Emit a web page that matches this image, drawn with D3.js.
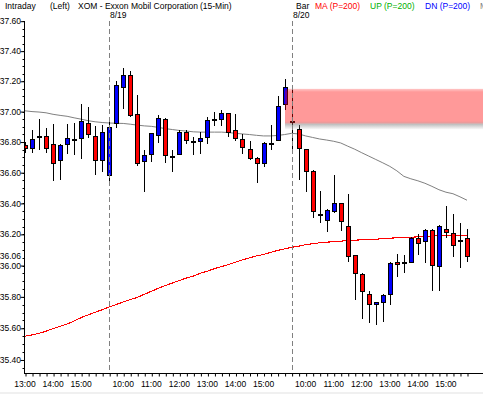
<!DOCTYPE html>
<html>
<head>
<meta charset="utf-8">
<script src="https://cdn.jsdelivr.net/npm/d3@7"></script>
<style>
  body { margin: 0; background: #fff; }
  svg { display: block; }
  text { font-family: "Liberation Sans", Arial, sans-serif; font-size: 8.5px; fill: #000; }
</style>
</head>
<body>
<svg id="chart"></svg>
<script>
// sessions shown on the chart (15-min bars)
var sessions = [
  {date: "8/18", start: "13:00", bars: 12},
  {date: "8/19", start: "09:30", bars: 26},
  {date: "8/20", start: "09:30", bars: 26}
]

// OHLC, one value per bar
var open  = [36.78,36.76,36.83,36.84,36.79,36.68,36.79,36.82,36.825,36.925,36.84,36.685,
  36.585,36.925,37.165,37.24,36.985,36.675,36.725,36.845,36.95,36.71,36.725,36.865,36.81,36.81,36.83,36.95,36.95,36.99,36.88,36.82,36.755,36.695,36.66,36.795,36.815,37.05,
  36.935,36.885,36.755,36.61,36.33,36.295,36.35,36.40,36.255,36.07,35.945,35.82,35.755,35.765,35.82,36.025,36.025,36.025,36.18,36.155,36.23,35.995,36.235,36.21,36.165,36.18]
var high  = [36.80,36.88,36.95,36.89,36.92,36.785,36.92,36.925,37.05,37.03,36.905,36.915,
  36.95,37.205,37.285,37.27,37.11,36.75,36.86,36.975,36.96,36.75,36.88,36.88,36.835,36.865,36.965,37.00,37.01,36.99,36.985,36.85,36.81,36.705,36.80,36.915,37.105,37.215,
  37.14,36.915,36.755,36.615,36.48,36.365,36.585,36.40,36.46,36.07,35.955,35.84,35.77,35.82,36.02,36.075,36.07,36.185,36.205,36.235,36.235,36.26,36.385,36.33,36.275,36.235]
var low   = [36.73,36.73,36.75,36.73,36.545,36.555,36.725,36.715,36.69,36.825,36.585,36.605,
  36.515,36.895,37.02,36.965,36.645,36.475,36.67,36.795,36.66,36.605,36.715,36.785,36.715,36.725,36.79,36.905,36.905,36.83,36.81,36.725,36.68,36.53,36.635,36.745,36.81,37.01,
  36.735,36.555,36.475,36.305,36.275,36.215,36.335,36.225,36.02,35.78,35.66,35.635,35.62,35.64,35.745,35.925,35.955,36.015,36.069,36.019,35.84,35.84,36.175,36.055,35.985,36.02]
var close = [36.76,36.82,36.84,36.76,36.66,36.78,36.825,36.815,36.935,36.855,36.685,36.865,
  36.90,37.175,37.24,36.975,36.665,36.715,36.86,36.96,36.715,36.705,36.865,36.815,36.805,36.825,36.945,36.95,36.99,36.865,36.825,36.77,36.695,36.66,36.795,36.795,37.04,37.16,
  36.935,36.76,36.61,36.35,36.33,36.36,36.40,36.285,36.06,35.955,35.84,35.755,35.77,35.81,36.015,36.01,36.025,36.18,36.145,36.23,36.005,36.255,36.215,36.135,36.165,36.06]

// the two moving averages drawn over the bars
var grayMA = [37.005,37.00,36.997,36.992,36.982,36.975,36.969,36.959,36.95,36.94,36.933,36.928,
  36.925,36.923,36.922,36.917,36.911,36.906,36.903,36.896,36.888,36.882,36.876,36.872,36.867,36.865,36.865,36.865,36.865,36.862,36.857,36.853,36.849,36.844,36.84,36.84,36.843,36.849,
  36.857,36.853,36.84,36.83,36.82,36.813,36.805,36.794,36.773,36.753,36.73,36.708,36.686,36.664,36.641,36.612,36.576,36.56,36.547,36.531,36.511,36.489,36.473,36.463,36.443,36.421]
var redMA = [35.55,35.558,35.568,35.582,35.598,35.612,35.628,35.646,35.668,35.685,35.702,35.718,
  35.735,35.751,35.767,35.783,35.796,35.816,35.835,35.855,35.872,35.888,35.904,35.92,35.933,35.951,35.964,35.98,35.993,36.006,36.022,36.036,36.049,36.062,36.071,36.084,36.097,36.107,
  36.117,36.124,36.134,36.14,36.146,36.15,36.153,36.156,36.161,36.163,36.165,36.167,36.169,36.173,36.176,36.178,36.18,36.182,36.184,36.187,36.189,36.192,36.194,36.194,36.193,36.193]

// price axis
var priceTicks = [37.60,37.40,37.20,37.00,36.80,36.60,36.40,36.20,36.00,35.80,35.60,35.40]
var priceMinor = d3.range(35.35, 37.61, 0.05)
var lastPrice = close[close.length - 1]

// shaded zone (gap) on the right
var zoneFromBar = 37
var zoneTop = 37.15
var zoneBottom = 36.92

var width = 483, height = 394
var plot = {left: 25, right: 483, top: 21, bottom: 373}

// build bar list with times
var bars = []
sessions.forEach(function(s, si) {
  var hm = s.start.split(":").map(Number)
  var mins = hm[0] * 60 + hm[1]
  for (var k = 0; k < s.bars; k++) {
    var m = mins + k * 15
    var hh = Math.floor(m / 60), mm = m % 60
    bars.push({
      i: bars.length, session: si, first: k === 0,
      time: hh + ":" + (mm < 10 ? "0" : "") + mm,
      o: open[bars.length], h: high[bars.length], l: low[bars.length], c: close[bars.length]
    })
  }
})

var svg = d3.select("#chart").attr("width", width).attr("height", height)
svg.append("rect").attr("width", width).attr("height", height).attr("fill", "#fff")
svg.append("rect").attr("y", 392).attr("width", width).attr("height", 2).attr("fill", "#f0f0f0")

var x = d3.scaleLinear().domain([0, bars.length - 1]).range([25, 467])
var y = d3.scaleLog().domain([35.318, 37.6]).range([plot.bottom, 21.2])

var defs = svg.append("defs")
defs.append("clipPath").attr("id", "clip")
  .append("rect").attr("x", plot.left).attr("y", plot.top)
  .attr("width", plot.right - plot.left).attr("height", plot.bottom - plot.top)

var zg = defs.append("linearGradient").attr("id", "zoneGrad").attr("x1", 0).attr("x2", 0).attr("y1", 0).attr("y2", 1)
zg.append("stop").attr("offset", "0%").attr("stop-color", "#ff0000").attr("stop-opacity", 0.22)
zg.append("stop").attr("offset", "9%").attr("stop-color", "#ff0000").attr("stop-opacity", 0.4)
zg.append("stop").attr("offset", "92%").attr("stop-color", "#ff0000").attr("stop-opacity", 0.4)
zg.append("stop").attr("offset", "100%").attr("stop-color", "#b04040").attr("stop-opacity", 0.5)
var sg = defs.append("linearGradient").attr("id", "shadowGrad").attr("x1", 0).attr("x2", 0).attr("y1", 0).attr("y2", 1)
sg.append("stop").attr("offset", "0%").attr("stop-color", "#808080").attr("stop-opacity", 0.55)
sg.append("stop").attr("offset", "100%").attr("stop-color", "#808080").attr("stop-opacity", 0)

var body = svg.append("g").attr("clip-path", "url(#clip)")

// day separators
var dayStarts = bars.filter(d => d.first && d.i > 0)
svg.selectAll(".sep").data(dayStarts).enter().append("line")
  .attr("x1", d => Math.round(x(d.i)) + 0.5).attr("x2", d => Math.round(x(d.i)) + 0.5)
  .attr("y1", plot.top).attr("y2", plot.bottom)
  .attr("stroke", "#808080").attr("stroke-dasharray", "5,3")
svg.selectAll(".daylabel").data(dayStarts).enter().append("text")
  .attr("x", d => Math.round(x(d.i)) + 1).attr("y", 18.3)
  .text(d => sessions[d.session].date)

// moving averages
var line = d3.line().x((d, i) => x(i)).y(d => y(d))
body.append("path").datum(grayMA).attr("d", line)
  .attr("fill", "none").attr("stroke", "#808080").attr("stroke-width", 1)
body.append("path").datum(redMA).attr("d", line)
  .attr("fill", "none").attr("stroke", "#ff0000").attr("stroke-width", 1.1)
  .attr("shape-rendering", "crispEdges")

// candles
var candles = body.selectAll(".candle").data(bars).enter().append("g")
candles.append("line")
  .attr("x1", d => Math.round(x(d.i)) + 0.5).attr("x2", d => Math.round(x(d.i)) + 0.5)
  .attr("y1", d => Math.round(y(d.h))).attr("y2", d => Math.round(y(d.l)))
  .attr("stroke", "#000")
candles.append("rect")
  .attr("x", d => Math.round(x(d.i)) - 1.5)
  .attr("y", d => Math.round(y(Math.max(d.o, d.c))) + 0.5)
  .attr("width", 4)
  .attr("height", d => Math.max(1, Math.round(y(Math.min(d.o, d.c))) - Math.round(y(Math.max(d.o, d.c)))))
  .attr("fill", d => d.c === d.o ? "#000" : (d.c > d.o ? "#0000ff" : "#ff0000"))
  .attr("stroke", "#000")

// shaded zone
var zx = Math.round(x(zoneFromBar))
body.append("rect")
  .attr("x", zx).attr("y", y(zoneTop))
  .attr("width", plot.right - zx).attr("height", y(zoneBottom) - y(zoneTop))
  .attr("fill", "url(#zoneGrad)")
body.append("rect")
  .attr("x", zx).attr("y", y(zoneBottom))
  .attr("width", plot.right - zx).attr("height", 6)
  .attr("fill", "url(#shadowGrad)")

// price axis
var yAxis = d3.axisLeft(y).tickValues(priceTicks).tickFormat(d3.format(".2f")).tickSize(4).tickSizeOuter(0)
var yg = svg.append("g").attr("transform", "translate(24.5,0)").call(yAxis)
yg.attr("font-size", null).attr("font-family", null)
yg.select(".domain").attr("d", "M0," + plot.top + "V" + plot.bottom)
yg.selectAll("text").attr("x", -3.5).attr("dy", "0.3em")
yg.selectAll(".minor").data(priceMinor).enter().append("line")
  .attr("x1", -2).attr("x2", 0)
  .attr("y1", d => Math.round(y(d)) + 0.5).attr("y2", d => Math.round(y(d)) + 0.5)
  .attr("stroke", "#000")
yg.append("text").attr("x", -3.5).attr("y", y(lastPrice)).attr("dy", "0.3em")
  .attr("text-anchor", "end").text(d3.format(".2f")(lastPrice))

// time axis
var xAxis = d3.axisBottom(x).tickValues(bars.map(d => d.i))
  .tickFormat(i => bars[i].time.slice(-3) === ":00" ? bars[i].time : "")
  .tickSize(3).tickSizeOuter(0)
var xg = svg.append("g").attr("transform", "translate(0," + (plot.bottom + 0.5) + ")").call(xAxis)
xg.attr("font-size", null).attr("font-family", null)
xg.select(".domain").attr("d", "M24,0H" + width)
xg.selectAll(".tick line").attr("transform", "translate(0.5,0)")
xg.selectAll("text").attr("y", 9.5).attr("dx", "-0.5").attr("dy", "0.5em")

// header
var header = svg.append("g").attr("transform", "translate(0,9.3)")
header.append("text").attr("x", 5).text("Intraday")
header.append("text").attr("x", 50).text("(Left)")
header.append("text").attr("x", 78).text("XOM - Exxon Mobil Corporation")
header.append("text").attr("x", 200).text("(15-Min)")
header.append("text").attr("x", 296).text("Bar")
header.append("text").attr("x", 315).style("fill", "#ff0000").text("MA (P=200)")
header.append("text").attr("x", 370).style("fill", "#00b000").text("UP (P=200)")
header.append("text").attr("x", 425).style("fill", "#0000ff").text("DN (P=200)")
header.append("text").attr("x", 480).style("fill", "#808080").text("MA")
</script>
</body>
</html>
